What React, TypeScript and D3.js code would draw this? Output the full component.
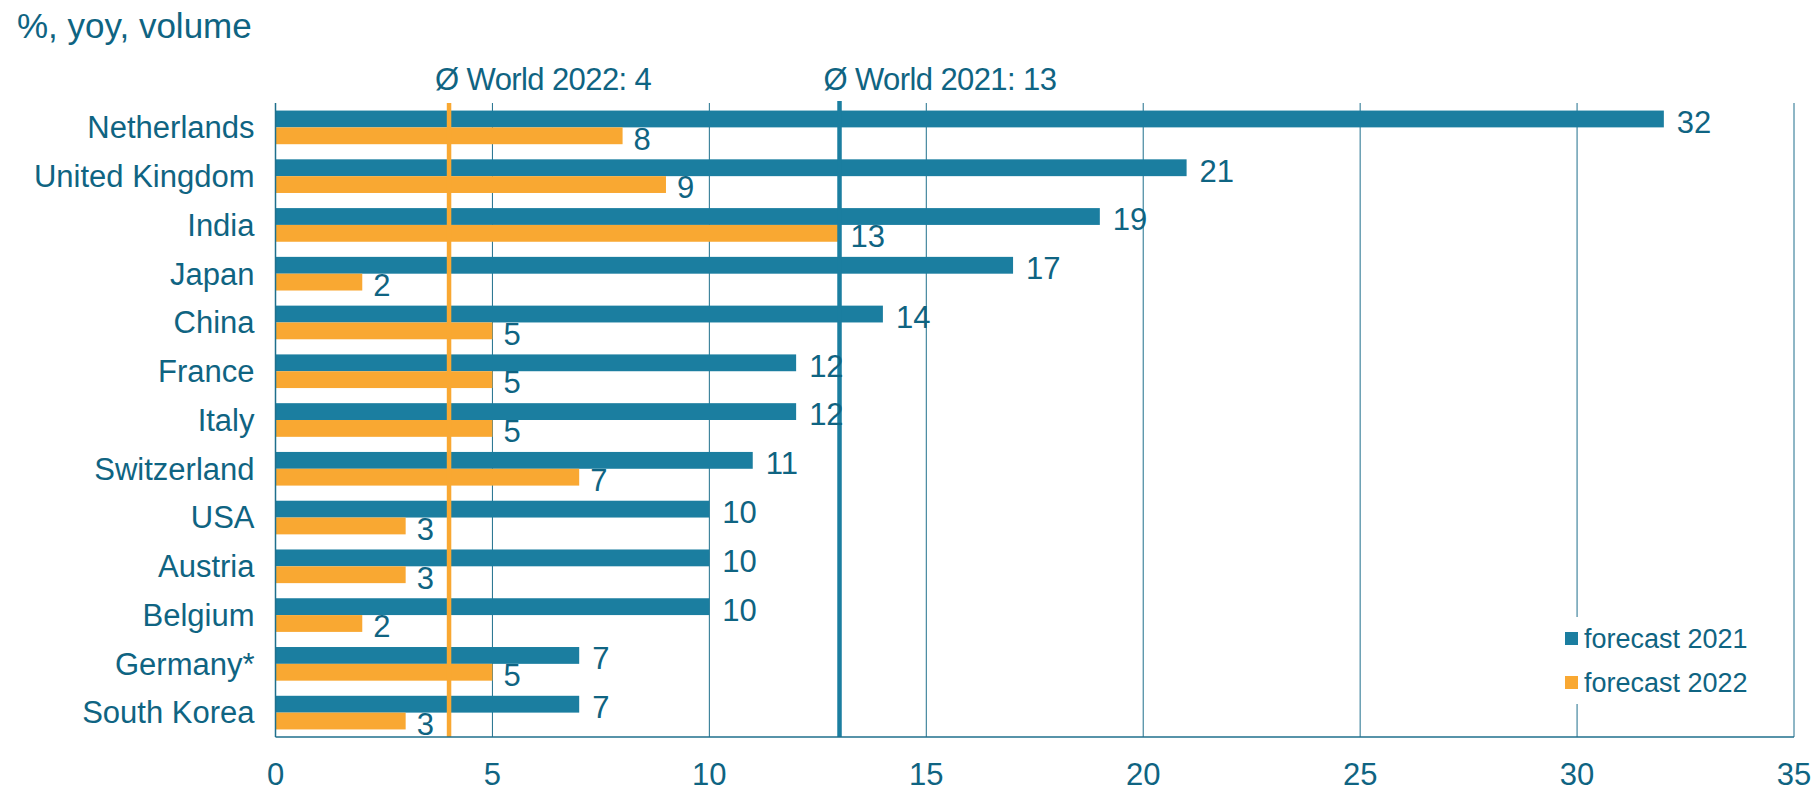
import React from "react";
import * as d3 from "d3";

const categories = ["Netherlands","United Kingdom","India","Japan","China","France","Italy","Switzerland","USA","Austria","Belgium","Germany*","South Korea"];
const forecast2021 = [32,21,19,17,14,12,12,11,10,10,10,7,7];
const forecast2022 = [8,9,13,2,5,5,5,7,3,3,2,5,3];
const xTicks = [0,5,10,15,20,25,30,35];
const world2021 = 13;
const world2022 = 4;
const seriesNames = ["forecast 2021","forecast 2022"];

const W = 1815, H = 792;
const M = { left: 275.5, right: 1794, top: 103, bottom: 737 };
const BLUE = "#1b7ea0";
const ORANGE = "#f9a832";
const TEXT = "#0f6482";
const GRID = "#1f6f8c";
const FONT = "'Liberation Sans', Arial, sans-serif";

export default function App() {
  const x = d3.scaleLinear().domain([0, 35]).range([M.left, M.right]);
  const y = d3.scaleBand<string>().domain(categories).range([M.top, M.bottom]).paddingInner(0.31).paddingOuter(0.155);
  const sub = d3.scaleBand<string>().domain(["a","b"]).range([0, y.bandwidth()]);
  return (
    <svg width={W} height={H} style={{ position: "absolute", left: 0, top: 0, background: "#fff" }} fontFamily={FONT}>
      <text x={17} y={38} fontSize={35} fill={TEXT}>%, yoy, volume</text>
      {xTicks.slice(1).map(t => (
        <line key={"g"+t} x1={x(t)} x2={x(t)} y1={M.top} y2={M.bottom} stroke={GRID} strokeWidth={1} />
      ))}
      {categories.map((c, i) => (
        <g key={c}>
          <rect x={x(0)} y={(y(c) as number) + (sub("a") as number)} width={x(forecast2021[i]) - x(0)} height={sub.bandwidth()} fill={BLUE} />
          <rect x={x(0)} y={(y(c) as number) + (sub("b") as number)} width={x(forecast2022[i]) - x(0)} height={sub.bandwidth()} fill={ORANGE} />
        </g>
      ))}
      <line x1={x(world2022)} x2={x(world2022)} y1={M.top} y2={M.bottom} stroke={ORANGE} strokeWidth={4.5} />
      <line x1={x(world2021)} x2={x(world2021)} y1={M.top - 2} y2={M.bottom} stroke={BLUE} strokeWidth={4.5} />
      {categories.map((c, i) => (
        <g key={"l"+c}>
          <text x={x(forecast2021[i]) + 13} y={(y(c) as number) + (sub("a") as number) + sub.bandwidth() / 2 + 3} dy="0.35em" fontSize={31} fill={TEXT}>{forecast2021[i]}</text>
          <text x={x(forecast2022[i]) + 11} y={(y(c) as number) + (sub("b") as number) + sub.bandwidth() / 2 + 3} dy="0.35em" fontSize={31} fill={TEXT}>{forecast2022[i]}</text>
          <text x={M.left - 21} y={(y(c) as number) + y.bandwidth() / 2} dy="0.35em" textAnchor="end" fontSize={31} fill={TEXT}>{c}</text>
        </g>
      ))}
      <line x1={M.left} x2={M.left} y1={M.top} y2={M.bottom} stroke={GRID} strokeWidth={1.5} />
      <line x1={M.left} x2={M.right} y1={M.bottom} y2={M.bottom} stroke={GRID} strokeWidth={1.5} />
      {xTicks.map(t => (
        <text key={"t"+t} x={x(t)} y={774} dy="0.35em" textAnchor="middle" fontSize={31} fill={TEXT}>{t}</text>
      ))}
      <text x={x(world2022) - 14} y={79} dy="0.35em" fontSize={31} letterSpacing={-0.6} fill={TEXT}>Ø World 2022: {world2022}</text>
      <text x={x(world2021) - 16} y={79} dy="0.35em" fontSize={31} letterSpacing={-0.6} fill={TEXT}>Ø World 2021: {world2021}</text>
      <rect x={1555} y={617} width={210} height={87} fill="#fff" />
      {seriesNames.map((s, i) => (
        <g key={s}>
          <rect x={1565} y={632 + i * 44} width={13} height={13} fill={i === 0 ? BLUE : ORANGE} />
          <text x={1584} y={638.5 + i * 44} dy="0.35em" fontSize={27} fill={TEXT}>{s}</text>
        </g>
      ))}
    </svg>
  );
}
